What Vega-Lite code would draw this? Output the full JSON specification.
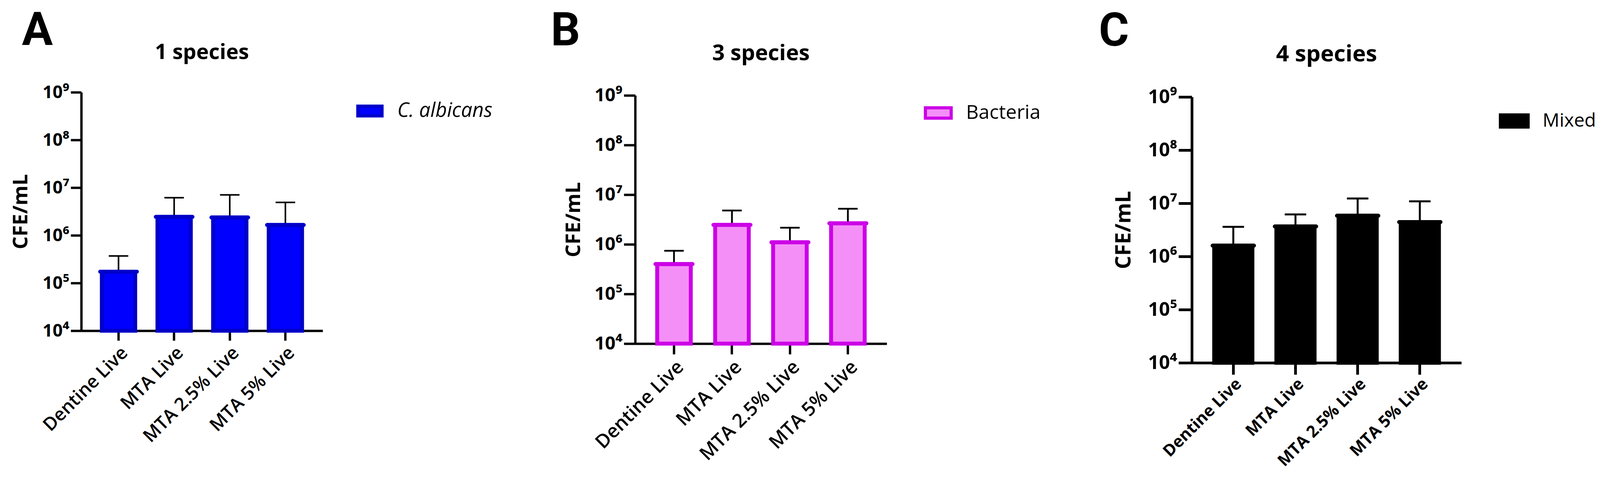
{
  "$schema": "https://vega.github.io/schema/vega-lite/v6.json",
  "padding": {"left": 27, "top": 20, "right": 0, "bottom": 0},
  "background": "white",
  "spacing": 149,
  "config": {
    "view": {"stroke": null},
    "font": "Open Sans",
    "axis": {"grid": false, "domainColor": "black", "tickColor": "black", "labelColor": "black", "titleColor": "black", "labelLimit": 0, "labelFont": "Open Sans", "titleFont": "Open Sans"},
    "legend": {"labelLimit": 0, "labelFont": "Open Sans"},
    "title": {"color": "black", "font": "Open Sans"}
  },
  "datasets": {
    "A": [
      {"group": "Dentine Live", "mean": 173000, "upper": 369000, "series": "C. albicans", "base": 10000},
      {"group": "MTA Live", "mean": 2440000, "upper": 6150000, "series": "C. albicans", "base": 10000},
      {"group": "MTA 2.5% Live", "mean": 2370000, "upper": 7060000, "series": "C. albicans", "base": 10000},
      {"group": "MTA 5% Live", "mean": 1650000, "upper": 4900000, "series": "C. albicans", "base": 10000}
    ],
    "B": [
      {"group": "Dentine Live", "mean": 400000, "upper": 740000, "series": "Bacteria", "base": 10000},
      {"group": "MTA Live", "mean": 2470000, "upper": 4800000, "series": "Bacteria", "base": 10000},
      {"group": "MTA 2.5% Live", "mean": 1100000, "upper": 2160000, "series": "Bacteria", "base": 10000},
      {"group": "MTA 5% Live", "mean": 2650000, "upper": 5200000, "series": "Bacteria", "base": 10000}
    ],
    "C": [
      {"group": "Dentine Live", "mean": 1600000, "upper": 3600000, "series": "Mixed", "base": 10000},
      {"group": "MTA Live", "mean": 3660000, "upper": 6170000, "series": "Mixed", "base": 10000},
      {"group": "MTA 2.5% Live", "mean": 5840000, "upper": 12300000, "series": "Mixed", "base": 10000},
      {"group": "MTA 5% Live", "mean": 4430000, "upper": 10900000, "series": "Mixed", "base": 10000}
    ],
    "spacer": [{"s": 1}]
  },
  "resolve": {"scale": {"x": "independent", "y": "independent", "fill": "independent", "stroke": "independent"}, "legend": {"fill": "independent", "stroke": "independent"}, "axis": {"x": "independent", "y": "independent"}},
  "hconcat": [
    {
      "title": {"text": "A", "anchor": "start", "frame": "group", "font": "Roboto", "fontSize": 118, "fontWeight": "bold", "dx": -152, "offset": -38},
      "spacing": 0,
      "vconcat": [
        {"width": 618, "height": 1, "data": {"name": "spacer"}, "mark": {"type": "point", "opacity": 0}, "encoding": {}},
        {
          "width": 618,
          "height": 610,
          "title": {"text": "1 species", "anchor": "middle", "frame": "group", "fontSize": 54, "fontWeight": "bold", "offset": 52},
          "data": {"name": "A"},
          "encoding": {
            "x": {"field": "group", "type": "nominal", "sort": null,
              "scale": {"paddingInner": 0.4, "paddingOuter": 0.37},
              "axis": {"title": null, "labelAngle": -45, "labelFontSize": 47, "labelFontWeight": 600, "tickSize": 25, "tickWidth": 6, "domainWidth": 6, "labelPadding": 8}}
          },
          "layer": [
            {
              "mark": {"type": "bar", "strokeWidth": 10},
              "encoding": {
                "y": {"field": "mean", "type": "quantitative", "scale": {"type": "log", "domain": [10000, 1000000000]},
                  "axis": {"values": [10000, 100000, 1000000, 10000000, 100000000, 1000000000],
                    "labelExpr": "'10' + ['⁰','¹','²','³','⁴','⁵','⁶','⁷','⁸','⁹'][round(log(datum.value)/LN10)]",
                    "title": "CFE/mL", "titleFontSize": 52, "titleFontWeight": "bold", "titlePadding": 28,
                    "labelFontSize": 45, "labelFontWeight": "bold", "labelPadding": 4,
                    "tickSize": 27, "tickWidth": 6, "domainWidth": 6}},
                "y2": {"field": "base"},
                "fill": {"field": "series", "type": "nominal", "scale": {"range": ["#0000ff"]},
                  "legend": {"orient": "none", "legendX": 704, "legendY": 145, "title": null, "padding": 0, "symbolType": "M-1,-0.4H1V0.4H-1Z", "symbolSize": 3844, "symbolStrokeWidth": 8, "labelFontSize": 51, "labelFontStyle": "italic", "labelOffset": 35, "labelColor": "black"}},
                "stroke": {"field": "series", "type": "nominal", "scale": {"range": ["#0000c8"]},
                  "legend": {"orient": "none", "legendX": 704, "legendY": 145, "title": null, "padding": 0, "symbolType": "M-1,-0.4H1V0.4H-1Z", "symbolSize": 3844, "symbolStrokeWidth": 8, "labelFontSize": 51, "labelFontStyle": "italic", "labelOffset": 35, "labelColor": "black"}}
              }
            },
            {
              "mark": {"type": "rule", "strokeWidth": 4, "color": "black"},
              "encoding": {"y": {"field": "mean", "type": "quantitative"}, "y2": {"field": "upper"}}
            },
            {
              "mark": {"type": "tick", "thickness": 10, "size": 104, "cornerRadius": 5, "color": "#0000c8", "opacity": 1},
              "encoding": {"y": {"field": "mean", "type": "quantitative"}}
            },
            {
              "mark": {"type": "tick", "thickness": 4, "size": 50, "color": "black", "opacity": 1},
              "encoding": {"y": {"field": "upper", "type": "quantitative"}}
            }
          ]
        }
      ]
    },
    {
      "title": {"text": "B", "anchor": "start", "frame": "group", "font": "Roboto", "fontSize": 118, "fontWeight": "bold", "dx": -216, "offset": -38},
      "spacing": 0,
      "vconcat": [
        {"width": 644, "height": 4, "data": {"name": "spacer"}, "mark": {"type": "point", "opacity": 0}, "encoding": {}},
        {
          "width": 644,
          "height": 635,
          "title": {"text": "3 species", "anchor": "middle", "frame": "group", "fontSize": 56, "fontWeight": "bold", "offset": 54},
          "data": {"name": "B"},
          "encoding": {
            "x": {"field": "group", "type": "nominal", "sort": null,
              "scale": {"paddingInner": 0.42, "paddingOuter": 0.38},
              "axis": {"title": null, "labelAngle": -45, "labelFontSize": 49, "labelFontWeight": 600, "tickSize": 27, "tickWidth": 6, "domainWidth": 6, "labelPadding": 8}}
          },
          "layer": [
            {
              "mark": {"type": "bar", "strokeWidth": 10},
              "encoding": {
                "y": {"field": "mean", "type": "quantitative", "scale": {"type": "log", "domain": [10000, 1000000000]},
                  "axis": {"values": [10000, 100000, 1000000, 10000000, 100000000, 1000000000],
                    "labelExpr": "'10' + ['⁰','¹','²','³','⁴','⁵','⁶','⁷','⁸','⁹'][round(log(datum.value)/LN10)]",
                    "title": "CFE/mL", "titleFontSize": 52, "titleFontWeight": "bold", "titlePadding": 26,
                    "labelFontSize": 47, "labelFontWeight": "bold", "labelPadding": 4,
                    "tickSize": 29, "tickWidth": 6, "domainWidth": 6}},
                "y2": {"field": "base"},
                "fill": {"field": "series", "type": "nominal", "scale": {"range": ["#f58ff8"]},
                  "legend": {"orient": "none", "legendX": 739, "legendY": 148, "title": null, "padding": 0, "symbolType": "M-1,-0.4H1V0.4H-1Z", "symbolSize": 4356, "symbolStrokeWidth": 8, "labelFontSize": 50, "labelOffset": 34, "labelColor": "black"}},
                "stroke": {"field": "series", "type": "nominal", "scale": {"range": ["#cc00e6"]},
                  "legend": {"orient": "none", "legendX": 739, "legendY": 148, "title": null, "padding": 0, "symbolType": "M-1,-0.4H1V0.4H-1Z", "symbolSize": 4356, "symbolStrokeWidth": 8, "labelFontSize": 50, "labelOffset": 34, "labelColor": "black"}}
              }
            },
            {
              "mark": {"type": "rule", "strokeWidth": 4.5, "color": "black"},
              "encoding": {"y": {"field": "mean", "type": "quantitative"}, "y2": {"field": "upper"}}
            },
            {
              "mark": {"type": "tick", "thickness": 10, "size": 105, "cornerRadius": 5, "color": "#cc00e6", "opacity": 1},
              "encoding": {"y": {"field": "mean", "type": "quantitative"}}
            },
            {
              "mark": {"type": "tick", "thickness": 4.5, "size": 50, "color": "black", "opacity": 1},
              "encoding": {"y": {"field": "upper", "type": "quantitative"}}
            }
          ]
        }
      ]
    },
    {
      "title": {"text": "C", "anchor": "start", "frame": "group", "font": "Roboto", "fontSize": 118, "fontWeight": "bold", "dx": -238, "offset": -38},
      "spacing": 0,
      "vconcat": [
        {"width": 690, "height": 7, "data": {"name": "spacer"}, "mark": {"type": "point", "opacity": 0}, "encoding": {}},
        {
          "width": 690,
          "height": 680,
          "title": {"text": "4 species", "anchor": "middle", "frame": "group", "fontSize": 58, "fontWeight": "bold", "offset": 55},
          "data": {"name": "C"},
          "encoding": {
            "x": {"field": "group", "type": "nominal", "sort": null,
              "scale": {"paddingInner": 0.385, "paddingOuter": 0.36},
              "axis": {"title": null, "labelAngle": -45, "labelFontSize": 42, "labelFontWeight": "bold", "tickSize": 30, "tickWidth": 7, "domainWidth": 7, "labelPadding": 3}}
          },
          "layer": [
            {
              "mark": {"type": "bar", "strokeWidth": 10},
              "encoding": {
                "y": {"field": "mean", "type": "quantitative", "scale": {"type": "log", "domain": [10000, 1000000000]},
                  "axis": {"values": [10000, 100000, 1000000, 10000000, 100000000, 1000000000],
                    "labelExpr": "'10' + ['⁰','¹','²','³','⁴','⁵','⁶','⁷','⁸','⁹'][round(log(datum.value)/LN10)]",
                    "title": "CFE/mL", "titleFontSize": 54, "titleFontWeight": "bold", "titlePadding": 34,
                    "labelFontSize": 49, "labelFontWeight": "bold", "labelPadding": 4,
                    "tickSize": 34, "tickWidth": 7, "domainWidth": 7}},
                "y2": {"field": "base"},
                "fill": {"field": "series", "type": "nominal", "scale": {"range": ["#000000"]},
                  "legend": {"orient": "none", "legendX": 786, "legendY": 166, "title": null, "padding": 0, "symbolType": "M-1,-0.44H1V0.44H-1Z", "symbolSize": 5041, "symbolStrokeWidth": 8, "labelFontSize": 48, "labelOffset": 33, "labelColor": "black"}},
                "stroke": {"field": "series", "type": "nominal", "scale": {"range": ["#000000"]},
                  "legend": {"orient": "none", "legendX": 786, "legendY": 166, "title": null, "padding": 0, "symbolType": "M-1,-0.44H1V0.44H-1Z", "symbolSize": 5041, "symbolStrokeWidth": 8, "labelFontSize": 48, "labelOffset": 33, "labelColor": "black"}}
              }
            },
            {
              "mark": {"type": "rule", "strokeWidth": 5, "color": "black"},
              "encoding": {"y": {"field": "mean", "type": "quantitative"}, "y2": {"field": "upper"}}
            },
            {
              "mark": {"type": "tick", "thickness": 10, "size": 116, "cornerRadius": 5, "color": "#000000", "opacity": 1},
              "encoding": {"y": {"field": "mean", "type": "quantitative"}}
            },
            {
              "mark": {"type": "tick", "thickness": 5, "size": 55, "color": "black", "opacity": 1},
              "encoding": {"y": {"field": "upper", "type": "quantitative"}}
            }
          ]
        }
      ]
    }
  ]
}
